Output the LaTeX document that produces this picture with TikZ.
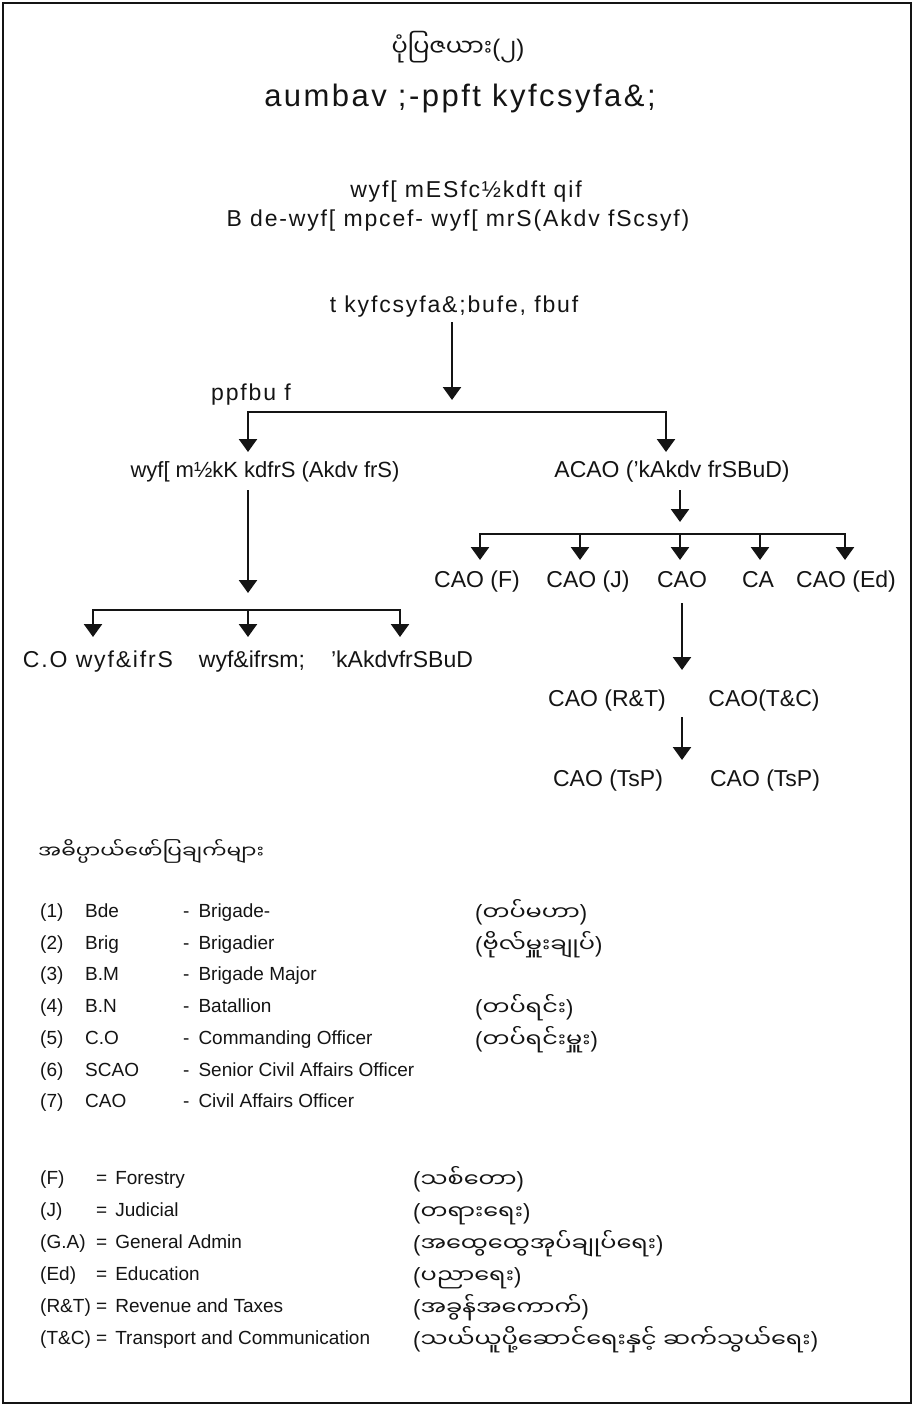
\documentclass[tikz,border=0pt]{standalone}
\usepackage{fontspec}
\setmainfont{Liberation Sans}
\newfontfamily\mmfont[Script=Myanmar, FakeStretch=1.2]{Noto Sans Myanmar UI}
\newfontfamily\mmtitlefont[Script=Myanmar]{Noto Sans Myanmar UI}
\newfontfamily\legacyfont[LetterSpace=8]{Liberation Sans}
\usepackage{tikz}
\usetikzlibrary{arrows.meta}
\definecolor{inkblack}{RGB}{20,20,20}

% Myanmar text between tall Latin brackets
\newcommand{\mmgloss}[1]{{\rmfamily\fontsize{22}{24}\selectfont(}{\mmfont #1}{\rmfamily\fontsize{22}{24}\selectfont)}}

\tikzset{
  chart/.style={font=\fontsize{23}{26}\selectfont, inner sep=0pt, anchor=base, text=inkblack},
  legacy/.style={chart, font=\legacyfont\fontsize{23}{26}\selectfont},
  legend/.style={font=\fontsize{19}{22}\selectfont, anchor=base west, inner sep=0pt, text=inkblack},
  mmlegend/.style={font=\mmfont\fontsize{20}{24}\selectfont, anchor=base west, inner sep=0pt, yshift=-3pt, text=inkblack},
  flow/.style={line width=2.5pt, inkblack, -{Triangle[width=18pt,length=13pt]}},
  fork/.style={line width=2.5pt, inkblack, {Triangle[width=18pt,length=13pt]}-{Triangle[width=18pt,length=13pt]}},
}

\begin{document}
\begin{tikzpicture}[x=1pt,y=-1pt]
    \useasboundingbox (0,0) rectangle (914,1406);
    % Frame
    \draw[line width=1.2pt, inkblack] (3,3) rectangle (911,1403);

    % Title
    \node[chart, font=\mmtitlefont\fontsize{24}{28}\selectfont] (title) at (458,56) {ပုံပြဇယား{\rmfamily(}၂{\rmfamily)}};
    \node[legacy, font=\legacyfont\fontsize{31}{34}\selectfont] (subtitle) at (460,106) {aumbav ;-ppft kyfcsyfa\&;};

    % Brigade
    \node[legacy] (unit) at (466,197) {wyf[ mESfc½kdft qif};
    \node[legacy] (brigade) at (458,226) {B de-wyf[ mpcef- wyf[ mrS(Akdv fScsyf)};

    % Administration
    \node[legacy] (admin) at (454,312) {t kyfcsyfa\&;bufe, fbuf};
    \coordinate (adminout) at (452,322);
    \coordinate (adminin) at (452,400);
    \draw[flow] (adminout) -- (adminin);

    % Two sides
    \node[legacy] (military) at (251,400) {ppfbu f};
    \coordinate (split) at (452,412);
    \coordinate (cmdin) at (248,452);
    \coordinate (acaoin) at (666,452);
    \draw[fork] (cmdin) |- (split) -| (acaoin);
    \node[chart, font=\fontsize{22}{25}\selectfont] (cmd) at (265,477) {wyf[ m½kK kdfrS (Akdv frS)};
    \node[chart] (acao) at (672,477) {ACAO ('kAkdv frSBuD)};

    % Battalion side
    \coordinate (cmdout) at (248,490);
    \coordinate (cmdtip) at (248,593);
    \draw[flow] (cmdout) -- (cmdtip);
    \coordinate (bnsplit) at (248,610);
    \coordinate (coin) at (93,637);
    \coordinate (bnin) at (400,637);
    \coordinate (midin) at (248,637);
    \draw[fork] (coin) |- (bnsplit) -| (bnin);
    \draw[flow] (bnsplit) -- (midin);
    \node[legacy] (co) at (98,667) {C.O wyf\&ifrS};
    \node[chart] (bns) at (252,667) {wyf\&ifrsm;};
    \node[chart] (deputy) at (402,667) {'kAkdvfrSBuD};

    % Civil affairs side
    \coordinate (acaoout) at (680,490);
    \coordinate (acaotip) at (680,522);
    \draw[flow] (acaoout) -- (acaotip);
    \coordinate (caosplit) at (680,534);
    \coordinate (forin) at (480,560);
    \coordinate (edin) at (845,560);
    \draw[fork] (forin) |- (caosplit) -| (edin);
    \coordinate (judout) at (580,534);
    \coordinate (judin) at (580,560);
    \coordinate (caoin) at (680,560);
    \coordinate (caout) at (760,534);
    \coordinate (cain) at (760,560);
    \draw[flow] (judout) -- (judin);
    \draw[flow] (caosplit) -- (caoin);
    \draw[flow] (caout) -- (cain);
    \node[chart] (caof) at (477,587) {CAO (F)};
    \node[chart] (caoj) at (588,587) {CAO (J)};
    \node[chart] (cao) at (682,587) {CAO};
    \node[chart] (ca) at (758,587) {CA};
    \node[chart] (caoed) at (846,587) {CAO (Ed)};

    \coordinate (revout) at (682,603);
    \coordinate (revtip) at (682,670);
    \draw[flow] (revout) -- (revtip);
    \node[chart] (caort) at (607,706) {CAO (R\&T)};
    \node[chart] (caotc) at (764,706) {CAO(T\&C)};

    \coordinate (tspout) at (682,717);
    \coordinate (tsptip) at (682,760);
    \draw[flow] (tspout) -- (tsptip);
    \node[chart] (tspa) at (608,786) {CAO (TsP)};
    \node[chart] (tspb) at (765,786) {CAO (TsP)};

    % Legend
    \node[mmlegend, font=\mmfont\fontsize{18}{22}\selectfont] (meaning) at (38,855) {အဓိပ္ပာယ်ဖော်ပြချက်များ};

    \node[legend] (n1) at (40,917) {(1)};
    \node[legend] (a1) at (85,917) {Bde};
    \node[legend] (d1) at (183,917) {-\hspace{9pt}Brigade-};
    \node[mmlegend] (m1) at (475,917) {\mmgloss{တပ်မဟာ}};

    \node[legend] (n2) at (40,949) {(2)};
    \node[legend] (a2) at (85,949) {Brig};
    \node[legend] (d2) at (183,949) {-\hspace{9pt}Brigadier};
    \node[mmlegend] (m2) at (475,949) {\mmgloss{ဗိုလ်မှူးချုပ်}};

    \node[legend] (n3) at (40,980) {(3)};
    \node[legend] (a3) at (85,980) {B.M};
    \node[legend] (d3) at (183,980) {-\hspace{9pt}Brigade Major};

    \node[legend] (n4) at (40,1012) {(4)};
    \node[legend] (a4) at (85,1012) {B.N};
    \node[legend] (d4) at (183,1012) {-\hspace{9pt}Batallion};
    \node[mmlegend] (m4) at (475,1012) {\mmgloss{တပ်ရင်း}};

    \node[legend] (n5) at (40,1044) {(5)};
    \node[legend] (a5) at (85,1044) {C.O};
    \node[legend] (d5) at (183,1044) {-\hspace{9pt}Commanding Officer};
    \node[mmlegend] (m5) at (475,1044) {\mmgloss{တပ်ရင်းမှူး}};

    \node[legend] (n6) at (40,1076) {(6)};
    \node[legend] (a6) at (85,1076) {SCAO};
    \node[legend] (d6) at (183,1076) {-\hspace{9pt}Senior Civil Affairs Officer};

    \node[legend] (n7) at (40,1107) {(7)};
    \node[legend] (a7) at (85,1107) {CAO};
    \node[legend] (d7) at (183,1107) {-\hspace{9pt}Civil Affairs Officer};

    % Departments
    \node[legend] (kf) at (40,1184) {(F)};
    \node[legend] (df) at (96,1184) {=\hspace{8pt}Forestry};
    \node[mmlegend] (mf) at (413,1184) {\mmgloss{သစ်တော}};

    \node[legend] (kj) at (40,1216) {(J)};
    \node[legend] (dj) at (96,1216) {=\hspace{8pt}Judicial};
    \node[mmlegend] (mj) at (413,1216) {\mmgloss{တရားရေး}};

    \node[legend] (kga) at (40,1248) {(G.A)};
    \node[legend] (dga) at (96,1248) {=\hspace{8pt}General Admin};
    \node[mmlegend] (mga) at (413,1248) {\mmgloss{အထွေထွေအုပ်ချုပ်ရေး}};

    \node[legend] (ked) at (40,1280) {(Ed)};
    \node[legend] (ded) at (96,1280) {=\hspace{8pt}Education};
    \node[mmlegend] (med) at (413,1280) {\mmgloss{ပညာရေး}};

    \node[legend] (krt) at (40,1312) {(R\&T)};
    \node[legend] (drt) at (96,1312) {=\hspace{8pt}Revenue and Taxes};
    \node[mmlegend] (mrt) at (413,1312) {\mmgloss{အခွန်အကောက်}};

    \node[legend] (ktc) at (40,1344) {(T\&C)};
    \node[legend] (dtc) at (96,1344) {=\hspace{8pt}Transport and Communication};
    \node[mmlegend] (mtc) at (413,1344) {\mmgloss{သယ်ယူပို့ဆောင်ရေးနှင့် ဆက်သွယ်ရေး}};
\end{tikzpicture}
\end{document}
